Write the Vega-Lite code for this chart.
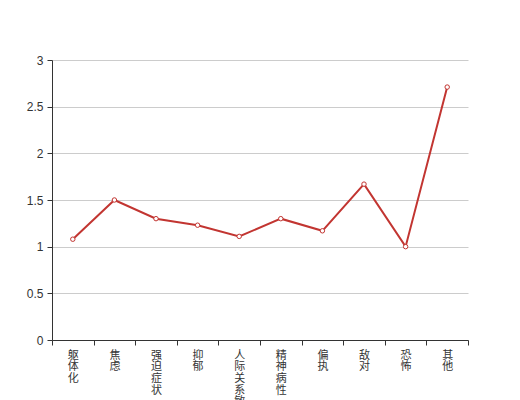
{
  "$schema": "https://vega.github.io/schema/vega-lite/v6.json",
  "width": 416,
  "height": 280,
  "autosize": {"type": "none"},
  "padding": {"left": 52, "top": 60, "right": 52, "bottom": 60},
  "background": "white",
  "config": {"view": {"stroke": null}, "font": "sans-serif"},
  "data": {
    "values": [
      {"factor": "躯体化", "score": 1.08},
      {"factor": "焦虑", "score": 1.5},
      {"factor": "强迫症状", "score": 1.3},
      {"factor": "抑郁", "score": 1.23},
      {"factor": "人际关系敏感", "score": 1.11},
      {"factor": "精神病性", "score": 1.3},
      {"factor": "偏执", "score": 1.17},
      {"factor": "敌对", "score": 1.67},
      {"factor": "恐怖", "score": 1.0},
      {"factor": "其他", "score": 2.71}
    ]
  },
  "encoding": {
    "x": {
      "field": "factor",
      "type": "nominal",
      "sort": null,
      "scale": {"type": "band", "paddingInner": 0, "paddingOuter": 0},
      "axis": {
        "title": null,
        "labelAngle": 0,
        "labelExpr": "split(datum.label, '')",
        "labelFont": "Noto Sans CJK SC",
        "labelFontSize": 11,
        "labelLineHeight": 11.7,
        "labelColor": "#333",
        "labelPadding": 4,
        "labelBaseline": "top",
        "tickBand": "extent",
        "tickColor": "#333",
        "tickSize": 5,
        "domainColor": "#333",
        "grid": false
      }
    },
    "y": {
      "field": "score",
      "type": "quantitative",
      "scale": {"domain": [0, 3], "nice": false},
      "axis": {
        "title": null,
        "values": [0, 0.5, 1, 1.5, 2, 2.5, 3],
        "format": "~g",
        "labelFontSize": 12,
        "labelColor": "#333",
        "labelPadding": 4,
        "tickColor": "#333",
        "tickSize": 5,
        "domainColor": "#333",
        "gridColor": "#ccc",
        "gridWidth": 1
      }
    }
  },
  "layer": [
    {"mark": {"type": "line", "color": "#c23531", "strokeWidth": 2}},
    {"mark": {"type": "point", "shape": "circle", "filled": true, "fill": "white", "stroke": "#c23531", "strokeWidth": 1, "size": 20, "opacity": 1}}
  ]
}
